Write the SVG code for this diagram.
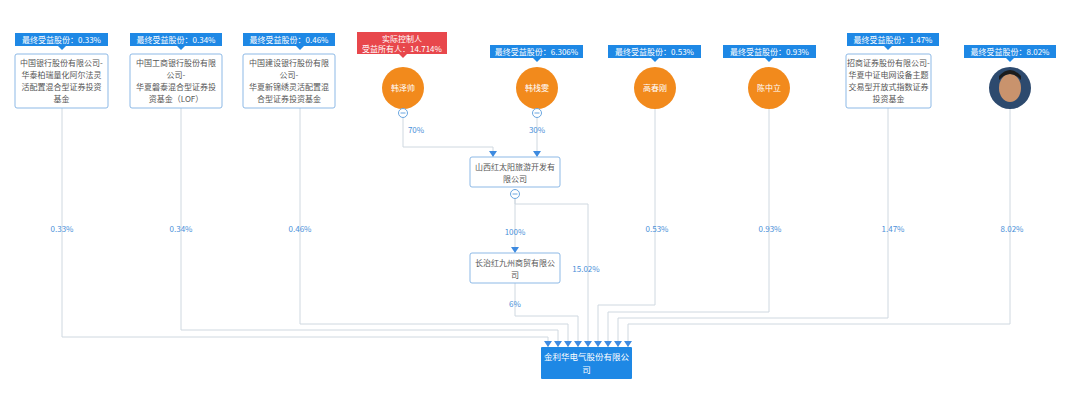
<svg xmlns="http://www.w3.org/2000/svg" width="1080" height="401" viewBox="0 0 1080 401">
<style>
text{font-family:"Noto Sans CJK SC","Liberation Sans",sans-serif;}
.tag{fill:#1e88e5;}
.tagt{fill:#fff;font-size:8px;text-anchor:middle;}
.box{fill:#fff;stroke:#8db9e6;stroke-width:1;}
.bt{fill:#555;font-size:8px;text-anchor:middle;}
.circ{fill:#f28a1c;}
.ct{fill:#fff;font-size:8px;text-anchor:middle;}
.ln{fill:none;stroke:#cfd8e0;stroke-width:1;}
.pct{fill:#4a90d9;font-size:8px;text-anchor:middle;}
.col{fill:#fff;stroke:#6aa6e0;stroke-width:1;}
</style>
<defs>
<marker id="ar" viewBox="0 0 6 8" refX="6" refY="4" markerWidth="6" markerHeight="8" markerUnits="userSpaceOnUse" orient="auto"><path d="M0,0 L6,4 L0,8 Z" fill="#3d8ae0"/></marker>
</defs>
<rect width="1080" height="401" fill="#fff"/>
<g id="connectors">
<path class="ln" d="M62,108 V337 H548 V347" marker-end="url(#ar)"/>
<path class="ln" d="M181,108 V330 H558 V347" marker-end="url(#ar)"/>
<path class="ln" d="M300,108 V324 H568 V347" marker-end="url(#ar)"/>
<path class="ln" d="M515,283 V316 H578 V347" marker-end="url(#ar)"/>
<path class="ln" d="M515,199 V204 H588 V347" marker-end="url(#ar)"/>
<path class="ln" d="M655,109 V305 H598 V347" marker-end="url(#ar)"/>
<path class="ln" d="M769,109 V312 H608 V347" marker-end="url(#ar)"/>
<path class="ln" d="M888,108 V318 H618 V347" marker-end="url(#ar)"/>
<path class="ln" d="M1010,109 V324 H628 V347" marker-end="url(#ar)"/>
<path class="ln" d="M403,118 V147 H493 V157" marker-end="url(#ar)"/>
<path class="ln" d="M537,118 V157" marker-end="url(#ar)"/>
<path class="ln" d="M515,199 V253" marker-end="url(#ar)"/>
<text class="pct" x="62" y="232">0.33%</text>
<text class="pct" x="181" y="232">0.34%</text>
<text class="pct" x="300" y="232">0.46%</text>
<text class="pct" x="416" y="133">70%</text>
<text class="pct" x="537" y="133">30%</text>
<text class="pct" x="515" y="235">100%</text>
<text class="pct" x="586" y="272">15.02%</text>
<text class="pct" x="515" y="307">6%</text>
<text class="pct" x="657" y="232">0.53%</text>
<text class="pct" x="770" y="232">0.93%</text>
<text class="pct" x="893" y="232">1.47%</text>
<text class="pct" x="1012" y="232">8.02%</text>
</g>
<g id="n1">
<rect class="tag" x="15" y="33" width="93" height="13"/><path class="tag" d="M58,46 L62,50 L66,46Z"/>
<text class="tagt" x="61.5" y="43">最终受益股份：0.33%</text>
<rect class="box" x="15" y="54" width="93" height="54" rx="2"/>
<text class="bt" x="61.5" y="66">中国银行股份有限公司-</text>
<text class="bt" x="61.5" y="78">华泰柏瑞量化阿尔法灵</text>
<text class="bt" x="61.5" y="90">活配置混合型证券投资</text>
<text class="bt" x="61.5" y="102">基金</text>
</g>
<g id="n2">
<rect class="tag" x="130" y="33" width="92" height="13"/><path class="tag" d="M177,46 L181,50 L185,46Z"/>
<text class="tagt" x="176" y="43">最终受益股份：0.34%</text>
<rect class="box" x="130" y="54" width="92" height="54" rx="2"/>
<text class="bt" x="176" y="66">中国工商银行股份有限</text>
<text class="bt" x="176" y="78">公司-</text>
<text class="bt" x="176" y="90">华夏磐泰混合型证券投</text>
<text class="bt" x="176" y="102">资基金（LOF）</text>
</g>
<g id="n3">
<rect class="tag" x="243" y="33" width="92" height="13"/><path class="tag" d="M296,46 L300,50 L304,46Z"/>
<text class="tagt" x="289" y="43">最终受益股份：0.46%</text>
<rect class="box" x="243" y="54" width="92" height="54" rx="2"/>
<text class="bt" x="289" y="66">中国建设银行股份有限</text>
<text class="bt" x="289" y="78">公司-</text>
<text class="bt" x="289" y="90">华夏新锦绣灵活配置混</text>
<text class="bt" x="289" y="102">合型证券投资基金</text>
</g>
<g id="n4">
<rect x="357" y="32" width="90" height="22" fill="#e8474c"/><path d="M399,54 L403,58 L407,54Z" fill="#e8474c"/>
<text class="tagt" x="402" y="42">实际控制人</text>
<text class="tagt" x="402" y="51.5">受益所有人：14.714%</text>
<circle class="circ" cx="403" cy="88" r="21"/>
<text class="ct" x="403" y="91">韩泽帅</text>
<circle class="col" cx="403" cy="113" r="4.5"/><path d="M400.5,113 H405.5" stroke="#6aa6e0"/>
</g>
<g id="n5">
<rect class="tag" x="490" y="45" width="93" height="13"/><path class="tag" d="M533,58 L537,62 L541,58Z"/>
<text class="tagt" x="536.5" y="55">最终受益股份：6.306%</text>
<circle class="circ" cx="537" cy="88" r="21"/>
<text class="ct" x="537" y="91">韩栈雯</text>
<circle class="col" cx="537" cy="113" r="4.5"/><path d="M534.5,113 H539.5" stroke="#6aa6e0"/>
</g>
<g id="n6">
<rect class="tag" x="608" y="45" width="93" height="13"/><path class="tag" d="M651,58 L655,62 L659,58Z"/>
<text class="tagt" x="654.5" y="55">最终受益股份：0.53%</text>
<circle class="circ" cx="655" cy="88" r="21"/>
<text class="ct" x="655" y="91">高春刚</text>
</g>
<g id="n7">
<rect class="tag" x="723" y="45" width="93" height="13"/><path class="tag" d="M765,58 L769,62 L773,58Z"/>
<text class="tagt" x="769.5" y="55">最终受益股份：0.93%</text>
<circle class="circ" cx="769" cy="88" r="21"/>
<text class="ct" x="769" y="91">陈中立</text>
</g>
<g id="n8">
<rect class="tag" x="847" y="33" width="92" height="13"/><path class="tag" d="M884,46 L888,50 L892,46Z"/>
<text class="tagt" x="893" y="43">最终受益股份：1.47%</text>
<rect class="box" x="846" y="54" width="85" height="54" rx="2"/>
<text class="bt" x="888.5" y="66">招商证券股份有限公司-</text>
<text class="bt" x="888.5" y="78">华夏中证电网设备主题</text>
<text class="bt" x="888.5" y="90">交易型开放式指数证券</text>
<text class="bt" x="888.5" y="102">投资基金</text>
</g>
<g id="n9">
<rect class="tag" x="964" y="45" width="92" height="13"/><path class="tag" d="M1006,58 L1010,62 L1014,58Z"/>
<text class="tagt" x="1010" y="55">最终受益股份：8.02%</text>
<circle cx="1010" cy="88" r="21" fill="#2d4a6e"/>
<ellipse cx="1010" cy="88" rx="11" ry="14" fill="#c9936d"/>
<path d="M999,80 Q1010,68 1021,80 L1021,76 Q1010,64 999,76Z" fill="#1c1c1c"/>
</g>
<g id="n10">
<rect class="box" x="470" y="157" width="90" height="30" rx="2"/>
<text class="bt" x="515" y="170">山西红太阳旅游开发有</text>
<text class="bt" x="515" y="182">限公司</text>
<circle class="col" cx="515" cy="194" r="4.5"/><path d="M512.5,194 H517.5" stroke="#6aa6e0"/>
</g>
<g id="n11">
<rect class="box" x="470" y="253" width="90" height="30" rx="2"/>
<text class="bt" x="515" y="266">长治红九州商贸有限公</text>
<text class="bt" x="515" y="278">司</text>
</g>
<g id="n12">
<rect x="541" y="347" width="91" height="32" rx="1" fill="#1e88e5"/>
<text x="586.5" y="360" fill="#fff" font-size="8.5" text-anchor="middle">金利华电气股份有限公</text>
<text x="586.5" y="373" fill="#fff" font-size="8.5" text-anchor="middle">司</text>
</g>
</svg>
